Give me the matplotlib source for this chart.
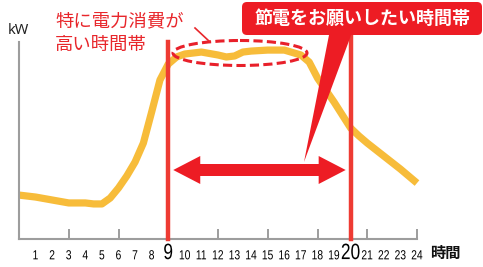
import matplotlib
matplotlib.use('Agg')
import matplotlib.pyplot as plt
from matplotlib import patheffects
from matplotlib.patches import Ellipse, FancyBboxPatch, Polygon
from matplotlib.transforms import Affine2D

# hourly electricity demand (relative, 100 = top of the axis)
hours = [0, 1, 2, 3, 4, 4.5, 5, 5.5, 6, 6.5, 7, 7.5, 8, 8.5, 9, 9.5, 10,
         11, 12, 12.5, 13, 13.5, 14, 15, 16, 17, 17.5, 18, 18.5, 19, 19.5,
         20, 20.5, 21, 22, 23, 24]
demand = [22.3, 21.3, 19.8, 18.3, 18.3, 17.8, 17.8, 20.8, 25.9, 32.0, 39.1,
          48.7, 64.5, 80.7, 88.8, 92.4, 93.9, 94.9, 93.4, 92.4, 92.9, 94.9,
          95.4, 95.9, 95.9, 93.4, 89.8, 81.7, 75.6, 69.5, 62.9, 56.3, 52.3,
          48.7, 42.1, 35.5, 28.4]
tick_hours = list(range(1, 25))
marked_ticks = [3, 6, 9, 12, 15, 18, 21, 24]
save_start, save_end = 9, 20

peak_text = ['特に電力消費が', '高い時間帯']
callout_text = '節電をお願いしたい時間帯'
x_unit = '時間'
y_unit = 'kW'

plt.rcParams['font.family'] = ['Noto Sans CJK JP', 'DejaVu Sans']

RED = '#ED1C24'
LINE_RED = '#EE3B33'
GRAY = '#9D9D9D'
YELLOW = '#F7BC3A'


class Squeeze(patheffects.AbstractPathEffect):
    """narrow the glyphs horizontally around their own centre"""
    def __init__(self, sx):
        super().__init__()
        self.sx = sx

    def draw_path(self, renderer, gc, tpath, affine, rgbFace=None):
        pts = affine.transform(tpath.vertices)
        cx = (pts[:, 0].min() + pts[:, 0].max()) / 2
        aff = affine + Affine2D().translate(-cx, 0).scale(self.sx, 1).translate(cx, 0)
        renderer.draw_path(gc, tpath, aff, rgbFace)


W, H = 483, 267
fig = plt.figure(figsize=(W / 100, H / 100), dpi=100)

# main chart, axis box placed on the pixel grid of the reference
ax = fig.add_axes([19 / W, 28 / H, 398 / W, 197 / H])
ax.set_xlim(0, 24)
ax.set_ylim(0, 100)
ax.patch.set_alpha(0)
for side in ['top', 'right']:
    ax.spines[side].set_visible(False)
for side in ['left', 'bottom']:
    ax.spines[side].set_color(GRAY)
    ax.spines[side].set_linewidth(1.5)
ax.set_yticks([])
ax.set_xticks(marked_ticks)
ax.set_xticklabels([])
ax.tick_params(axis='x', direction='in', length=7.2, width=1.4, color=GRAY)

ax.plot(hours, demand, color=YELLOW, lw=5.2, solid_joinstyle='round',
        solid_capstyle='butt', clip_on=False, zorder=2)

ax.plot([save_start, save_start], [0, 100], color=LINE_RED, lw=3.2, zorder=3, clip_on=False)
ax.plot([save_end, save_end], [0, 106], color=LINE_RED, lw=3.2, zorder=3, clip_on=False)

narrow = [Squeeze(0.78)]
for h in tick_hours:
    if h in (save_start, save_end):
        ax.text(h, -7.4, str(h), ha='center', va='center', fontsize=16,
                family='Liberation Sans', color='#000000', clip_on=False,
                path_effects=narrow)
    else:
        ax.text(h, -8.8, str(h), ha='center', va='center', fontsize=9.5,
                family='Liberation Sans', color='#000000', clip_on=False,
                path_effects=narrow)

# overlay in pixel units for the annotations
ov = fig.add_axes([0, 0, 1, 1])
ov.set_xlim(0, W)
ov.set_ylim(H, 0)
ov.axis('off')
ov.patch.set_alpha(0)


def hx(h):
    return 19 + h * 398 / 24


ov.text(430, 253, x_unit, ha='left', va='center', fontsize=11, fontweight='bold', color='#111111')
ov.text(18, 30, y_unit, ha='center', va='center', fontsize=10.5, family=['Noto Sans', 'DejaVu Sans'],
        color='#222222')

ov.text(55, 21, peak_text[0], ha='left', va='center', fontsize=13.2, color='#E8262B')
ov.text(55, 45, peak_text[1], ha='left', va='center', fontsize=13.2, color='#E8262B')
ov.plot([195, 210], [28, 42], color='#E8262B', lw=1.2)
ov.add_patch(Ellipse((240, 53), 134, 25, fill=False, ec='#E8202A', lw=2.2,
                     ls=(0, (3, 1.4))))

# double arrow between the two red lines
xl, xr, yc = hx(save_start) + 5, hx(save_end) - 5, 170
shaft, head_w, head_l = 6, 14, 27
ov.add_patch(Polygon([(xl, yc), (xl + head_l, yc - head_w), (xl + head_l, yc - shaft),
                      (xr - head_l, yc - shaft), (xr - head_l, yc - head_w), (xr, yc),
                      (xr - head_l, yc + head_w), (xr - head_l, yc + shaft),
                      (xl + head_l, yc + shaft), (xl + head_l, yc + head_w)],
                     closed=True, fc=RED, ec='none'))

# callout
ov.add_patch(Polygon([(330, 30), (353, 30), (304, 162)], closed=True, fc=RED, ec='none'))
ov.add_patch(FancyBboxPatch((242, 2), 240, 33, boxstyle='round,pad=0,rounding_size=5',
                            fc=RED, ec='none'))
ov.text(363, 18.5, callout_text, ha='center', va='center', fontsize=13,
        fontweight='bold', color='white')

fig.savefig('out.png', dpi=100)
